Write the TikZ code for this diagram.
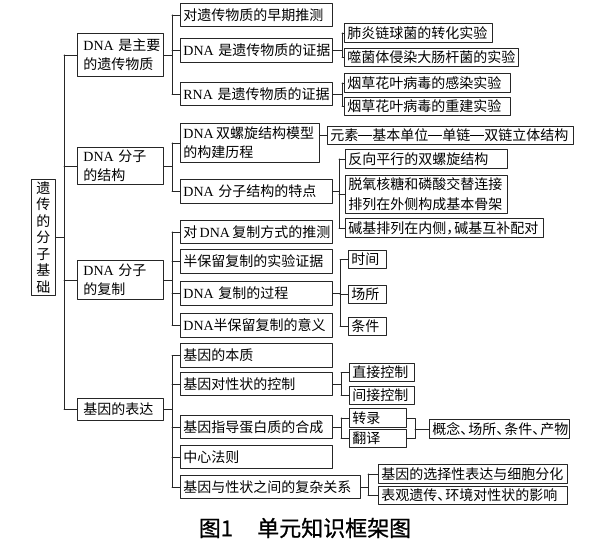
\documentclass[tikz,border=0pt]{standalone}
\usepackage{fontspec}
\setmainfont{Noto Sans CJK SC}
\newfontfamily\latinfont{Liberation Serif}
\newfontfamily\capfont{Noto Sans CJK SC}[FakeBold=0.8]
\usepackage{tikz}
\usetikzlibrary{calc, positioning}

\newcommand\ltn[1]{{\latinfont #1}}
\newcommand\punc[1]{\makebox[8pt][l]{#1}}
\newcommand\lk{\rule[4.8pt]{14pt}{0.7pt}}

\begin{document}
\begin{tikzpicture}[x=1pt, y=-1pt, line join=round, line cap=round,
    box/.style={draw=black!85, line width=0.8pt, anchor=north west,
        inner xsep=3pt, inner ysep=1pt, align=left,
        font=\fontsize{14pt}{19.5pt}\selectfont},
    lvone/.style={box, inner xsep=6pt, text width=74pt},
    link/.style={draw=black!85, line width=0.8pt}]

        % =========================
        % KHUNG ẢNH
        % =========================
        \fill[white] (0,0) rectangle (600,541);
        \useasboundingbox (0,0) rectangle (600,541);

        % =========================
        % GỐC
        % =========================
        \node[box, align=center, text width=14pt, inner xsep=5pt,
              minimum height=116pt, font=\fontsize{14pt}{16.5pt}\selectfont]
            (root) at (31,179) {遗\\传\\的\\分\\子\\基\\础};

        % =========================
        % CẤP 1
        % =========================
        \node[lvone, minimum height=43pt] (a) at (77,33)  {\ltn{DNA}~是主要\\的遗传物质};
        \node[lvone, minimum height=37pt] (b) at (77,147) {\ltn{DNA}~分子\\的结构};
        \node[lvone, minimum height=39pt] (c) at (77,260) {\ltn{DNA}~分子\\的复制};
        \node[lvone, minimum height=22pt] (d) at (77,398) {基因的表达};

        % =========================
        % CẤP 2
        % =========================
        \node[box, text width=146pt, minimum height=23pt] (a1) at (180,3)   {对遗传物质的早期推测};
        \node[box, text width=146pt, minimum height=24pt] (a2) at (180,38)  {\ltn{DNA}~是遗传物质的证据};
        \node[box, text width=146pt, minimum height=23pt] (a3) at (180,82)  {\ltn{RNA}~是遗传物质的证据};

        \node[box, text width=133pt, minimum height=39pt] (b1) at (180,123) {\ltn{DNA}\,双螺旋结构模型\\的构建历程};
        \node[box, text width=146pt, minimum height=24pt] (b2) at (180,179) {\ltn{DNA}~分子结构的特点};

        \node[box, text width=146pt, minimum height=23pt] (c1) at (180,220) {对\,\ltn{DNA}\,复制方式的推测};
        \node[box, text width=146pt, minimum height=24pt] (c2) at (180,249) {半保留复制的实验证据};
        \node[box, text width=146pt, minimum height=24pt] (c3) at (180,281) {\ltn{DNA}~复制的过程};
        \node[box, text width=146pt, minimum height=24pt] (c4) at (180,313) {\ltn{DNA}半保留复制的意义};

        \node[box, text width=146pt, minimum height=24pt] (d1) at (180,343) {基因的本质};
        \node[box, text width=146pt, minimum height=23pt] (d2) at (180,372) {基因对性状的控制};
        \node[box, text width=146pt, minimum height=23pt] (d3) at (180,415) {基因指导蛋白质的合成};
        \node[box, text width=146pt, minimum height=23pt] (d4) at (180,445) {中心法则};
        \node[box, text width=174pt, minimum height=23pt] (d5) at (180,475) {基因与性状之间的复杂关系};

        % =========================
        % CẤP 3
        % =========================
        \node[box, text width=142pt, minimum height=19pt] (a21) at (344,23)  {肺炎链球菌的转化实验};
        \node[box, text width=168pt, minimum height=18pt] (a22) at (344,48)  {噬菌体侵染大肠杆菌的实验};
        \node[box, text width=160pt, minimum height=19pt] (a31) at (344,73)  {烟草花叶病毒的感染实验};
        \node[box, text width=160pt, minimum height=18pt] (a32) at (344,97)  {烟草花叶病毒的重建实验};

        \node[box, text width=240pt, minimum height=18pt] (b11) at (327,126) {元素\lk 基本单位\lk 单链\lk 双链立体结构};
        \node[box, text width=156pt, minimum height=19pt] (b21) at (345,149) {反向平行的双螺旋结构};
        \node[box, text width=156pt, minimum height=38pt] (b22) at (345,175) {脱氧核糖和磷酸交替连接\\排列在外侧构成基本骨架};
        \node[box, text width=192pt, minimum height=19pt] (b23) at (345,218) {碱基排列在内侧\punc{，}碱基互补配对};

        \node[box, text width=32pt, minimum height=18pt] (c31) at (348,250) {时间};
        \node[box, text width=32pt, minimum height=18pt] (c32) at (348,285) {场所};
        \node[box, text width=32pt, minimum height=18pt] (c33) at (348,317) {条件};

        \node[box, text width=59pt, minimum height=18pt] (d21) at (349,363) {直接控制};
        \node[box, text width=59pt, minimum height=18pt] (d22) at (349,386) {间接控制};
        \node[box, text width=51pt, minimum height=19pt] (d31) at (349,408) {转录};
        \node[box, text width=51pt, minimum height=18pt] (d32) at (349,429) {翻译};
        \node[box, text width=134pt, minimum height=19pt] (d3x) at (429,419) {概念\punc{、}场所\punc{、}条件\punc{、}产物};
        \node[box, text width=183pt, minimum height=19pt] (d51) at (378,464) {基因的选择性表达与细胞分化};
        \node[box, text width=183pt, minimum height=18pt] (d52) at (378,486) {表观遗传\punc{、}环境对性状的影响};

        % =========================
        % ĐƯỜNG NỐI
        % =========================
        \coordinate (v0) at (64,0);
        \coordinate (v1) at (172,0);

        % Gốc -> cấp 1
        \draw[link] (root.east) -- (root.east -| v0);
        \draw[link] (a.west -| v0) -- (d.west -| v0);
        \foreach \n in {a,b,c,d}
            \draw[link] (\n.west) -- (\n.west -| v0);

        % Cấp 1 -> cấp 2
        \foreach \p/\f/\l in {a/a1/a3, b/b1/b2, c/c1/c4, d/d1/d5} {
            \draw[link] (\p.east) -- (\p.east -| v1);
            \draw[link] (\f.west -| v1) -- (\l.west -| v1);
        }
        \foreach \n in {a1,a2,a3,b1,b2,c1,c2,c3,c4,d1,d2,d3,d4,d5}
            \draw[link] (\n.west) -- (\n.west -| v1);

        % Cấp 2 -> cấp 3
        \foreach \p/\x/\kids in {a2/342/{a21,a22}, a3/342/{a31,a32},
                b2/339/{b21,b22,b23}, c3/340/{c31,c32,c33},
                d2/341/{d21,d22}, d3/341/{d31,d32}, d5/368/{d51,d52}} {
            \coordinate (vk) at (\x,0);
            \draw[link] (\p.east) -- (\p.east -| vk);
            \foreach \k in \kids
                \draw[link] (\k.west) -- (\k.west -| vk);
        }
        \draw[link] (a21.west -| 342,0) -- (a22.west -| 342,0);
        \draw[link] (a31.west -| 342,0) -- (a32.west -| 342,0);
        \draw[link] (b21.west -| 339,0) -- (b23.west -| 339,0);
        \draw[link] (c31.west -| 340,0) -- (c33.west -| 340,0);
        \draw[link] (d21.west -| 341,0) -- (d22.west -| 341,0);
        \draw[link] (d31.west -| 341,0) -- (d32.west -| 341,0);
        \draw[link] (d51.west -| 368,0) -- (d52.west -| 368,0);

        % Mô hình -> chuỗi
        \draw[link] (b11.west) -- (b11.west -| b1.east);

        % Phiên mã, dịch mã -> khái niệm
        \coordinate (v3) at (415,0);
        \draw[link] (d31.east) -- (d31.east -| v3) -- (d32.east -| v3) -- (d32.east);
        \draw[link] (d3x.west) -- (d3x.west -| v3);

        % =========================
        % CHÚ THÍCH
        % =========================
        \node[font=\capfont\fontsize{22pt}{24pt}\selectfont] (cap) at (305,528) {图1\hspace{1.1em}单元知识框架图};

    \end{tikzpicture}
\end{document}
